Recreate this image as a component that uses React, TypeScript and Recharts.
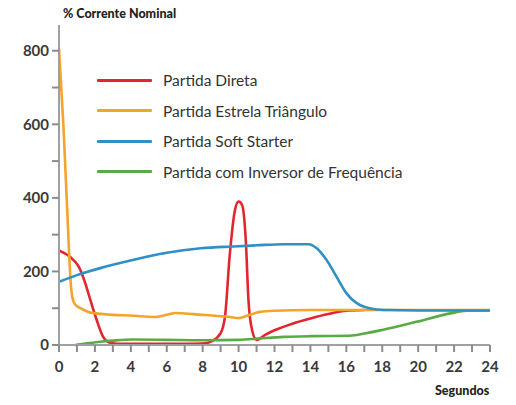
import React from "react";
import { LineChart, Line, XAxis, YAxis } from "recharts";

const seriesNames = [
  "Partida Direta",
  "Partida Estrela Triângulo",
  "Partida Soft Starter",
  "Partida com Inversor de Frequência",
];
const seriesColors = ["#e2262d", "#f4a42a", "#2f90c5", "#5aab47"];

const xTicks = [0, 1, 2, 3, 4, 5, 6, 7, 8, 9, 10, 11, 12, 13, 14, 15, 16, 17, 18, 19, 20, 21, 22, 23, 24];
const yTicks = [0, 100, 200, 300, 400, 500, 600, 700, 800];

const diretaX = [0, 0.6, 1.1, 1.4, 1.75, 2.1, 2.45, 2.85, 3.3, 5, 7, 8, 8.5, 9, 9.25, 9.5, 9.8, 10, 10.2, 10.4, 10.55, 10.75, 11, 11.5, 12, 13, 14, 15, 16, 17];
const diretaY = [257, 240, 213, 177, 122, 68, 23, 6, 3, 3, 3, 4, 10, 32, 80, 240, 367, 390, 380, 286, 122, 41, 14, 28, 40, 58, 72, 84, 93, 95];

const estrelaX = [0, 0.25, 0.45, 0.67, 0.75, 0.9, 1.2, 1.75, 3, 4, 5.3, 6, 6.5, 7.5, 8.5, 9.5, 10, 10.5, 11.2, 12, 14, 16, 18, 20, 24];
const estrelaY = [805, 593, 375, 158, 128, 110, 100, 88, 82, 80, 76, 82, 87, 84, 80, 76, 73, 80, 90, 93, 95, 95, 95, 95, 95];

const softX = [0, 1, 2.3, 4.1, 6, 7.9, 9.7, 11, 12.5, 13.9, 14.35, 14.9, 15.45, 16, 16.6, 17.5, 18.4, 20, 24];
const softY = [172, 190, 209, 231, 251, 263, 268, 271, 274, 274, 263, 231, 186, 141, 113, 98, 95, 94, 94];

const inversorX = [0.9, 1.5, 2.3, 3, 4.1, 6, 8, 10, 11.2, 12.5, 14, 16.2, 17.1, 18, 19.9, 21.8, 22.7, 24];
const inversorY = [0, 4, 9, 12, 15, 14, 13, 14, 18, 22, 24, 25, 32, 41, 63, 86, 93, 94];

const build = (xs: number[], ys: number[]) => xs.map((t, i) => ({ t, v: ys[i] }));

const series = [
  build(diretaX, diretaY),
  build(estrelaX, estrelaY),
  build(softX, softY),
  build(inversorX, inversorY),
];
const drawOrder = [0, 3, 1, 2];

const FONT = "Lato, 'Liberation Sans', sans-serif";
const AXIS = "#a0a0a0";
const tickStyle = { fill: "#3a3a3a", fontSize: 15, fontWeight: 700, fontFamily: FONT };

export default function App() {
  return (
    <div style={{ position: "absolute", left: 0, top: 0, width: 516, height: 405, background: "#fff", fontFamily: FONT }}>
      <LineChart width={516} height={405} margin={{ top: 25, right: 26, bottom: 0, left: 0 }}>
        <XAxis
          dataKey="t"
          type="number"
          domain={[0, 24]}
          ticks={xTicks}
          interval={0}
          allowDuplicatedCategory={false}
          height={60}
          stroke="#8c8c8c"
          axisLine={{ stroke: AXIS, strokeWidth: 2 }}
          tickLine={{ stroke: "#8c8c8c", strokeWidth: 2 }}
          tickSize={7}
          tickMargin={9}
          tick={tickStyle}
          tickFormatter={(v: number) => (v % 2 === 0 ? String(v) : "")}
        />
        <YAxis
          type="number"
          domain={[0, 870]}
          ticks={yTicks}
          interval={0}
          width={59}
          stroke="#8c8c8c"
          axisLine={{ stroke: AXIS, strokeWidth: 2 }}
          tickLine={{ stroke: "#8c8c8c", strokeWidth: 2 }}
          tickSize={7}
          tickMargin={3}
          tick={tickStyle}
          tickFormatter={(v: number) => (v % 200 === 0 ? String(v) : "")}
        />
        {drawOrder.map((i) => (
          <Line
            key={seriesNames[i]}
            data={series[i]}
            dataKey="v"
            name={seriesNames[i]}
            type="monotone"
            stroke={seriesColors[i]}
            strokeWidth={2.6}
            dot={false}
            isAnimationActive={false}
          />
        ))}
      </LineChart>
      <div style={{ position: "absolute", left: 63, top: 6, fontSize: 12.5, fontWeight: 900, color: "#222", whiteSpace: "nowrap" }}>
        % Corrente Nominal
      </div>
      <div style={{ position: "absolute", left: 435, top: 383, fontSize: 12.5, fontWeight: 900, color: "#222", whiteSpace: "nowrap" }}>
        Segundos
      </div>
      {seriesNames.map((n, i) => (
        <div key={n} style={{ position: "absolute", left: 97, top: 70 + i * 30.6, height: 20, display: "flex", alignItems: "center", whiteSpace: "nowrap" }}>
          <div style={{ width: 55, height: 3, background: seriesColors[i], borderRadius: 1 }} />
          <span style={{ marginLeft: 11, fontSize: 15.5, color: "#333" }}>{n}</span>
        </div>
      ))}
    </div>
  );
}
